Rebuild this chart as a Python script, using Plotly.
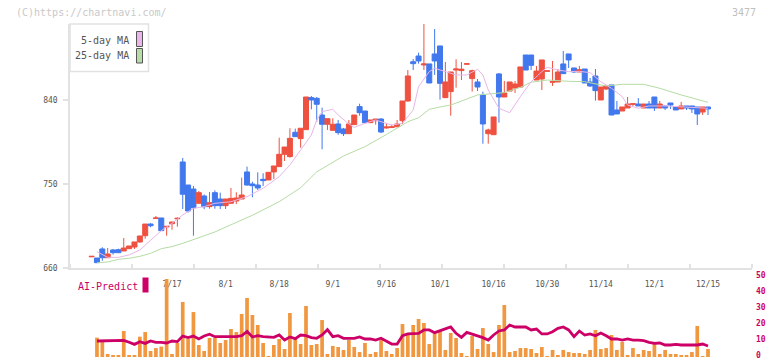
import plotly.graph_objects as go

# ---------------- data ----------------
dates = ["6/26", "6/27", "6/30", "7/1", "7/2", "7/3", "7/4", "7/7", "7/8", "7/9",
         "7/10", "7/11", "7/14", "7/15", "7/16", "7/17", "7/18", "7/22", "7/23", "7/24",
         "7/25", "7/28", "7/29", "7/30", "7/31", "8/1", "8/4", "8/5", "8/6", "8/7",
         "8/8", "8/12", "8/13", "8/14", "8/15", "8/18", "8/19", "8/20", "8/21", "8/22",
         "8/25", "8/26", "8/27", "8/28", "8/29", "9/1", "9/2", "9/3", "9/4", "9/5",
         "9/8", "9/9", "9/10", "9/11", "9/12", "9/16", "9/17", "9/18", "9/19", "9/22",
         "9/24", "9/25", "9/26", "9/29", "9/30", "10/1", "10/2", "10/3", "10/6", "10/7",
         "10/8", "10/9", "10/10", "10/14", "10/15", "10/16", "10/17", "10/20", "10/21", "10/22",
         "10/23", "10/24", "10/27", "10/28", "10/29", "10/30", "10/31", "11/4", "11/5", "11/6",
         "11/7", "11/10", "11/11", "11/12", "11/13", "11/14", "11/17", "11/18", "11/19", "11/20",
         "11/21", "11/25", "11/26", "11/27", "11/28", "12/1", "12/2", "12/3", "12/4", "12/5",
         "12/8", "12/9", "12/10", "12/11", "12/12", "12/15"]

tick_labels = ["7/17", "8/1", "8/18", "9/1", "9/16", "10/1", "10/16", "10/30", "11/14", "12/1", "12/15"]

open_ = [672.0, 670.7, 680.4, 671.0, 679.3, 679.6, 678.2, 680.7, 682.5, 687.9,
         694.6, 707.1, 713.0, 713.6, 704.0, 707.5, 712.7, 773.6, 748.9, 744.6,
         729.3, 737.1, 725.7, 740.7, 733.9, 726.8, 729.3, 731.8, 733.9, 762.9,
         750.0, 748.9, 755.0, 754.3, 762.9, 768.6, 781.8, 779.3, 805.4, 798.6,
         808.2, 842.5, 841.8, 823.9, 814.0, 807.5, 814.3, 808.9, 803.9, 813.6,
         832.9, 828.2, 815.7, 817.8, 819.6, 810.0, 810.5, 811.4, 817.8, 838.9,
         881.0, 887.1, 877.5, 878.6, 889.3, 897.9, 842.5, 849.0, 872.1, 871.5,
         878.3, 862.9, 859.3, 845.4, 803.9, 802.8, 867.9, 843.2, 849.6, 852.8,
         853.9, 888.2, 888.2, 861.4, 862.5, 870.7, 859.0, 859.3, 878.6, 889.3,
         874.3, 870.0, 873.2, 859.3, 865.7, 840.0, 851.8, 856.1, 829.3, 828.2,
         831.4, 835.4, 835.7, 831.4, 835.7, 843.2, 831.4, 833.6, 836.8, 832.5,
         830.4, 833.6, 833.6, 832.5, 827.1, 832.5]
high = [672.5, 670.7, 682.2, 681.4, 680.4, 680.7, 692.1, 683.6, 687.9, 694.3,
        707.1, 707.9, 715.7, 713.6, 704.6, 709.3, 714.3, 777.9, 748.9, 747.9,
        742.5, 738.8, 741.4, 743.2, 740.7, 733.9, 745.7, 741.1, 756.8, 768.6,
        752.5, 762.5, 761.5, 762.5, 769.3, 799.6, 789.6, 809.7, 809.3, 809.7,
        843.2, 844.3, 843.2, 831.8, 820.0, 820.4, 818.6, 810.0, 818.6, 823.9,
        836.0, 828.2, 818.6, 819.6, 820.5, 815.4, 813.5, 818.6, 838.9, 872.1,
        883.9, 890.7, 921.4, 878.6, 916.0, 897.9, 880.7, 870.0, 883.6, 880.7,
        878.8, 872.5, 862.5, 848.9, 809.3, 821.8, 868.9, 860.4, 859.3, 860.4,
        875.4, 888.2, 888.2, 876.4, 882.9, 871.2, 881.8, 873.2, 892.5, 889.3,
        874.3, 876.4, 873.2, 863.6, 873.2, 853.9, 855.0, 856.1, 838.9, 832.5,
        843.2, 835.9, 842.1, 835.7, 838.9, 843.2, 838.9, 833.6, 836.8, 832.5,
        837.9, 833.6, 833.6, 832.5, 832.5, 832.5]
low = [672.0, 665.7, 667.8, 671.0, 674.3, 676.4, 678.2, 680.7, 680.4, 687.0,
       691.4, 703.6, 712.8, 700.0, 694.6, 701.0, 704.3, 723.2, 719.3, 694.6,
       729.3, 723.0, 723.5, 723.5, 723.2, 723.2, 729.3, 728.6, 733.9, 748.2,
       735.7, 743.6, 747.9, 754.3, 755.4, 768.6, 774.6, 778.2, 800.7, 788.9,
       808.2, 830.0, 816.7, 787.2, 807.9, 807.5, 802.8, 801.4, 803.9, 813.6,
       823.2, 815.7, 815.7, 813.6, 804.5, 809.3, 810.0, 810.7, 814.3, 838.2,
       872.1, 878.9, 872.1, 858.2, 866.8, 840.4, 842.5, 823.2, 853.2, 861.4,
       878.3, 849.0, 849.6, 793.2, 793.2, 802.8, 815.7, 843.2, 849.6, 847.5,
       853.9, 872.1, 872.1, 861.4, 850.7, 870.7, 855.0, 859.3, 868.2, 874.3,
       869.0, 870.0, 858.2, 853.9, 839.3, 840.0, 850.7, 823.9, 825.0, 828.2,
       831.4, 833.6, 833.6, 831.4, 831.4, 828.2, 831.4, 829.3, 830.4, 829.3,
       830.4, 829.3, 826.1, 813.2, 824.0, 823.9]
close = [672.5, 665.7, 671.0, 675.0, 676.4, 676.4, 681.4, 683.6, 687.9, 694.3,
         707.1, 705.3, 713.6, 700.0, 704.6, 709.3, 713.2, 739.0, 721.1, 724.6,
         740.7, 725.7, 730.0, 726.8, 726.8, 733.9, 734.6, 735.0, 738.2, 748.9,
         748.2, 745.7, 753.6, 762.5, 769.3, 781.8, 789.6, 798.9, 800.7, 809.7,
         843.2, 840.0, 835.4, 814.0, 820.0, 814.0, 805.0, 803.9, 814.3, 823.9,
         826.4, 815.7, 818.6, 819.6, 805.7, 811.0, 811.2, 814.3, 838.9, 865.7,
         878.9, 881.8, 878.6, 858.2, 881.8, 857.8, 859.3, 870.0, 873.2, 873.0,
         878.8, 871.4, 853.9, 814.3, 807.9, 821.8, 843.2, 847.5, 859.3, 857.1,
         875.4, 872.1, 877.1, 871.0, 882.9, 871.2, 859.6, 870.0, 868.2, 882.9,
         870.0, 872.5, 858.2, 855.0, 850.0, 853.9, 855.0, 823.9, 825.0, 832.5,
         835.7, 835.9, 833.6, 835.7, 831.4, 831.4, 835.7, 831.4, 834.6, 829.3,
         833.6, 831.4, 830.4, 825.0, 832.5, 830.4]

# moving averages (None where not read)
ma5_points = {1: 677.5, 3: 671.4, 5: 671.4, 7: 674.0, 9: 679.3, 11: 689.3, 13: 700.0,
              15: 707.9, 17: 716.8, 19: 723.9, 21: 725.7, 23: 729.3, 26: 731.0,
              29: 736.4, 32: 745.4, 35: 757.9, 37: 770.4, 39: 786.4, 41: 802.5,
              42: 818.6, 43: 827.5, 45: 830.0, 46: 823.9, 48: 814.3, 49: 810.7,
              51: 815.0, 53: 818.6, 54: 816.7, 56: 813.2, 58: 815.0, 60: 829.3,
              61: 854.3, 63: 870.4, 64: 874.0, 66: 870.4, 68: 866.8, 70: 866.8,
              72: 872.9, 73: 866.8, 74: 850.7, 76: 831.1, 78: 826.4, 80: 843.6,
              82: 859.6, 84: 870.4, 85: 875.0, 87: 872.1, 89: 870.4, 91: 870.7,
              93: 869.3, 95: 859.6, 97: 852.5, 99: 843.6, 100: 834.6, 102: 831.1,
              104: 833.6, 107: 833.6, 110: 832.9, 113: 832.2, 115: 831.1}
ma25_points = {1: 665.7, 3: 666.4, 5: 669.3, 7: 670.4, 9: 672.5, 11: 675.7, 13: 680.7,
               15: 682.9, 17: 686.4, 19: 690.7, 21: 694.3, 23: 698.6, 30: 716.5,
               35: 731.0, 39: 746.0, 42: 763.0, 47: 780.0, 51: 790.0, 55: 803.0,
               59: 816.7, 61: 821.0, 63: 830.0, 65: 832.5, 67: 834.6, 70: 841.0,
               72: 845.4, 77: 847.9, 80: 853.6, 82: 859.0, 85: 861.4, 89: 860.0,
               92: 859.6, 96: 855.0, 99: 856.8, 103: 856.8, 106: 852.5, 110: 845.4,
               113: 841.1, 115: 837.5}

volume = [None, 12.1, 10.6, 1.9, 1.25, 1.25, 16.25, 0.8, 0.8, 12.7,
          15.6, 3.75, 5.6, 6.5, 48.75, 1.9, 8.75, 34.4, 11.25, 28.1,
          7.5, 3.75, 11.9, 11.9, 8.75, 10.6, 17.5, 15.6, 26.9, 36.9,
          26.25, 20.0, 8.75, 0.6, 7.5, 11.25, 5.0, 27.5, 11.25, 8.1,
          31.9, 7.5, 8.1, 23.1, 1.9, 6.9, 6.25, 4.4, 10.6, 6.25,
          3.1, 8.75, 1.9, 3.1, 10.6, 3.75, 1.9, 5.6, 20.6, 13.75,
          20.0, 23.75, 21.25, 8.1, 15.6, 16.25, 4.4, 15.0, 11.9, 2.5,
          0.6, 13.1, 5.0, 18.1, 8.1, 3.1, 20.0, 32.5, 3.1, 3.75,
          5.6, 5.6, 5.0, 2.5, 6.25, 0.6, 4.4, 1.25, 4.4, 3.1,
          2.5, 2.5, 1.9, 4.4, 16.9, 5.0, 5.6, 13.75, 4.4, 9.4,
          1.25, 5.6, 1.9, 4.4, 3.75, 9.4, 1.9, 4.4, 1.9, 1.9,
          0.8, 1.25, 3.1, 19.4, 0.6, 5.0]

ai_predict = [None, 10.0, 10.0, 10.0, 10.0, 10.0, 10.4, 9.2, 7.9, 9.6,
              8.5, 10.0, 9.2, 9.2, 8.75, 10.0, 9.6, 13.1, 12.1, 13.1,
              11.25, 13.1, 14.2, 12.7, 12.7, 12.7, 12.7, 12.7, 13.3, 16.0,
              12.5, 13.3, 12.7, 12.7, 12.3, 13.75, 10.6, 12.5, 11.5, 13.75,
              13.3, 12.1, 11.7, 13.75, 17.1, 12.7, 13.3, 11.7, 11.7, 11.7,
              12.5, 11.25, 11.25, 10.6, 11.7, 10.0, 8.1, 8.1, 13.3, 14.4,
              14.4, 14.8, 16.9, 16.9, 15.2, 16.25, 17.5, 18.75, 14.8, 12.3,
              15.4, 14.4, 13.3, 12.1, 10.6, 13.75, 16.25, 16.9, 20.0, 18.75,
              18.75, 18.75, 16.9, 17.5, 14.4, 14.4, 15.8, 17.9, 18.75, 16.9,
              12.7, 16.25, 13.75, 14.4, 13.3, 15.0, 13.3, 11.25, 11.25, 10.6,
              11.25, 10.6, 10.6, 10.2, 9.2, 8.5, 8.75, 7.5, 7.5, 7.9,
              7.5, 7.5, 7.1, 7.5, 8.1, 6.9]

price_ticks = [660, 750, 840]
sub_ticks = [0, 10, 20, 30, 40, 50]

# ---------------- layout helpers ----------------
W, H = 772, 361
def px(x):
    return x / W
def py(y):
    return 1 - y / H

FONT = "DejaVu Sans Mono"
RED = "#EF5140"
BLUE = "#4178EE"
ORANGE = "#F0973F"
CRIMSON = "#CC0066"
AXIS = "#e2e2e2"

idx = list(range(len(dates)))
ma5 = [ma5_points.get(i) for i in idx]
ma25 = [ma25_points.get(i) for i in idx]
tick_idx = [dates.index(t) for t in tick_labels]

# candle spacing in pixels and x of first candle -> axis range
step_px = 5.36
first_px = 91.6
x_range = [(70 - first_px) / step_px, (752 - first_px) / step_px]

fig = go.Figure()

fig.add_trace(go.Scatter(x=idx, y=ma25, mode="lines", connectgaps=True,
                         line=dict(color="#b5dca4", width=1), hoverinfo="skip",
                         xaxis="x", yaxis="y"))
fig.add_trace(go.Scatter(x=idx, y=ma5, mode="lines", connectgaps=True,
                         line=dict(color="#e8b6e8", width=1), hoverinfo="skip",
                         xaxis="x", yaxis="y"))
fig.add_trace(go.Candlestick(
    x=idx, open=open_, high=high, low=low, close=close,
    increasing=dict(line=dict(color=RED, width=1), fillcolor=RED),
    decreasing=dict(line=dict(color=BLUE, width=1), fillcolor=BLUE),
    whiskerwidth=0, hoverinfo="skip", xaxis="x", yaxis="y"))

fig.add_trace(go.Bar(x=idx, y=volume, marker=dict(color=ORANGE, line=dict(width=0)),
                     hoverinfo="skip", xaxis="x2", yaxis="y2"))
fig.add_trace(go.Scatter(x=idx, y=ai_predict, mode="lines",
                         line=dict(color=CRIMSON, width=2.8), hoverinfo="skip",
                         xaxis="x2", yaxis="y2"))

fig.update_layout(
    width=W, height=H, autosize=False,
    margin=dict(l=0, r=0, t=0, b=0, pad=0, autoexpand=False),
    paper_bgcolor="white", plot_bgcolor="white",
    showlegend=False,
    boxgap=0.035, boxgroupgap=0.035,
    bargap=0.31,
    font=dict(family=FONT, size=8, color="#555555"),
    xaxis=dict(
        domain=[px(70), px(752)], range=x_range, anchor="y", automargin=False,
        rangeslider=dict(visible=False),
        showgrid=False, zeroline=False,
        showline=True, linecolor=AXIS, linewidth=1.5,
        tickmode="array", tickvals=tick_idx, ticktext=tick_labels,
        ticks="", ticklabelstandoff=8,
        tickfont=dict(family=FONT, size=8, color="#555555"),
        minor=dict(ticks="inside", ticklen=4, tickwidth=1.5, tickcolor=AXIS,
                   tick0=x_range[0], dtick=(x_range[1] - x_range[0]) / 11,
                   showgrid=False),
    ),
    yaxis=dict(
        domain=[py(268), py(24)], range=[660, 921.4], anchor="x", automargin=False,
        showgrid=False, zeroline=False,
        showline=True, linecolor=AXIS, linewidth=1.5,
        tickmode="array", tickvals=price_ticks,
        ticks="outside", ticklen=5, tickwidth=1.5, tickcolor=AXIS,
        ticklabelstandoff=4, ticklabeloverflow="allow",
        tickfont=dict(family=FONT, size=8, color="#555555"),
    ),
    xaxis2=dict(
        domain=[px(70), px(752)], range=x_range, anchor="y2", matches="x",
        visible=False, automargin=False, rangeslider=dict(visible=False),
    ),
    yaxis2=dict(
        domain=[py(357), py(277)], range=[0, 50], anchor="free", automargin=False,
        position=px(752), side="right",
        showgrid=False, zeroline=False, showline=False,
        tickmode="array", tickvals=sub_ticks, ticks="",
        ticklabelstandoff=3, ticklabeloverflow="allow", ticklabelshift=-2,
        tickfont=dict(family=FONT, size=8, color=CRIMSON, weight="bold"),
    ),
)

shapes = [
    # legend box
    dict(type="rect", xref="paper", yref="paper", x0=px(70), x1=px(148.5),
         y0=py(71.5), y1=py(24), line=dict(color=AXIS, width=1.5), fillcolor="white",
         layer="above"),
    dict(type="rect", xref="paper", yref="paper", x0=px(136.5), x1=px(142.5),
         y0=py(46.5), y1=py(31.5), line=dict(color="#555555", width=1),
         fillcolor="#eab6ea", layer="above"),
    dict(type="rect", xref="paper", yref="paper", x0=px(136.5), x1=px(142.5),
         y0=py(63), y1=py(48.5), line=dict(color="#555555", width=1),
         fillcolor="#b8dca8", layer="above"),
    # AI-Predict swatch
    dict(type="rect", xref="paper", yref="paper", x0=px(142.5), x1=px(148.5),
         y0=py(292.5), y1=py(277.5), line=dict(width=0), fillcolor=CRIMSON,
         layer="above"),
]
fig.update_layout(shapes=shapes)

annotations = [
    dict(text="(C)https://chartnavi.com/", x=px(14), y=py(12.5), xref="paper",
         yref="paper", xanchor="left", yanchor="middle", showarrow=False,
         font=dict(family=FONT, size=10, color="#c9c9c9")),
    dict(text="3477", x=px(757.5), y=py(12.5), xref="paper", yref="paper",
         xanchor="right", yanchor="middle", showarrow=False,
         font=dict(family=FONT, size=10, color="#c0c0c0")),
    dict(text="5-day MA", x=px(131), y=py(40), xref="paper", yref="paper",
         xanchor="right", yanchor="middle", showarrow=False,
         font=dict(family=FONT, size=10, color="#555555")),
    dict(text="25-day MA", x=px(131), y=py(56), xref="paper", yref="paper",
         xanchor="right", yanchor="middle", showarrow=False,
         font=dict(family=FONT, size=10, color="#555555")),
    dict(text="AI-Predict", x=px(75.5), y=py(286), xref="paper", yref="paper",
         xanchor="left", yanchor="middle", showarrow=False,
         font=dict(family=FONT, size=10, color=CRIMSON)),
]
fig.update_layout(annotations=annotations)

fig.write_html("out.html",
               config={"displayModeBar": False, "responsive": False},
               post_script="document.body.style.margin='0';document.body.style.overflow='hidden';")
